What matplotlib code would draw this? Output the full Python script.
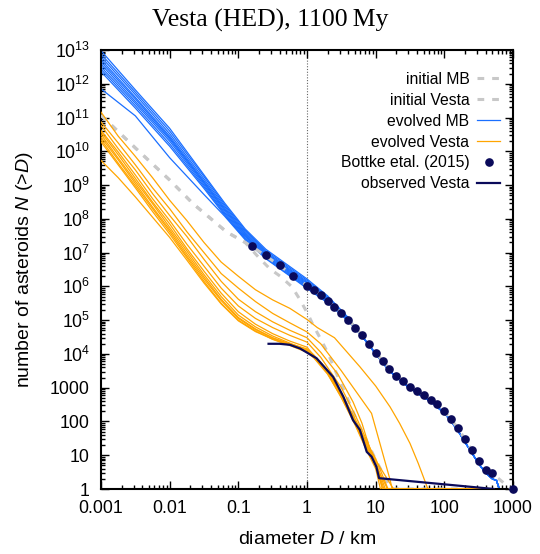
"""
Vesta (HED) family SFD at 1100 My: evolved vs initial vs observed
"""

import numpy as np
import matplotlib
matplotlib.use("Agg")
import matplotlib.pyplot as plt
from matplotlib.ticker import LogLocator, NullFormatter, FixedFormatter, FixedLocator

plt.rcParams['font.family'] = ['Liberation Sans', 'DejaVu Sans']
plt.rcParams['mathtext.fontset'] = 'custom'
plt.rcParams['mathtext.rm'] = 'Liberation Sans'
plt.rcParams['mathtext.it'] = 'Liberation Sans:italic'

# All values are log10(D / km) and log10(N(>D))

# initial MB / initial Vesta (common part at small D)
init_common_logD = [-3.0, -2.5, -2.0, -1.66, -1.17, -0.9]
init_common_logN = [11.07, 10.1, 9.15, 8.45, 7.61, 7.3]

init_mb_logD = [-0.8, -0.6, -0.4, -0.2, 0.0, 0.2, 0.4, 0.6, 0.8, 1.0, 1.2, 1.4, 1.6,
                1.8, 2.0, 2.2, 2.4, 2.6, 2.7, 2.97]
init_mb_logN = [7.18, 6.9, 6.62, 6.32, 6.02, 5.75, 5.4, 5.02, 4.56, 4.04, 3.56, 3.2,
                2.9, 2.64, 2.3, 1.8, 1.15, 0.56, 0.46, 0.0]

init_vesta_logD = [-0.7, -0.54, -0.39, -0.22, -0.1, 0.02, 0.09, 0.21, 0.31, 0.43, 0.58,
                   0.70, 0.84, 0.99, 1.13, 1.23, 2.72]
init_vesta_logN = [6.85, 6.52, 6.3, 5.99, 5.6, 5.15, 4.85, 4.4, 4.0, 3.42, 2.73,
                   2.14, 1.55, 0.91, 0.36, 0.0, 0.0]

# evolved MB (10 runs), small-D part on a common grid
evo_mb_logD = [-3.0, -2.5, -2.0, -1.5, -1.2, -0.9, -0.6, -0.3, 0.0, 0.3, 0.6]
evo_mb_logN = [
    [12.98, 11.82, 10.68, 9.30, 8.47, 7.70, 7.10, 6.66, 6.22, 5.72, 5.08],
    [12.88, 11.75, 10.60, 9.25, 8.42, 7.66, 7.06, 6.62, 6.18, 5.69, 5.06],
    [12.80, 11.68, 10.52, 9.18, 8.37, 7.62, 7.02, 6.58, 6.14, 5.66, 5.04],
    [12.72, 11.60, 10.45, 9.12, 8.32, 7.58, 6.99, 6.55, 6.11, 5.63, 5.03],
    [12.65, 11.55, 10.40, 9.08, 8.28, 7.55, 6.96, 6.52, 6.08, 5.61, 5.02],
    [12.58, 11.48, 10.36, 9.05, 8.24, 7.51, 6.93, 6.49, 6.05, 5.59, 5.01],
    [12.50, 11.42, 10.30, 9.00, 8.19, 7.48, 6.90, 6.46, 6.02, 5.57, 5.00],
    [12.43, 11.35, 10.22, 8.95, 8.15, 7.44, 6.87, 6.43, 5.99, 5.55, 4.99],
    [12.36, 11.28, 10.15, 8.90, 8.11, 7.41, 6.84, 6.40, 5.96, 5.53, 4.98],
    [11.85, 11.05, 9.81, 8.72, 8.08, 7.38, 6.82, 6.38, 5.94, 5.51, 4.97],
]
# shared large-D tail of the evolved MB
evo_mb_tail_logD = [0.8, 1.0, 1.2, 1.4, 1.6, 1.8, 2.0, 2.1, 2.2, 2.3, 2.4, 2.5, 2.6,
                    2.7, 2.76, 2.8, 3.0]
evo_mb_tail_logN = [4.53, 4.0, 3.5, 3.14, 2.85, 2.59, 2.25, 2.0, 1.72, 1.39, 1.07,
                    0.75, 0.48, 0.3, 0.25, 0.0, 0.0]

# evolved Vesta family (10 runs)
evo_ves_logD = [-3.0, -2.75, -2.5, -2.25, -2.0, -1.75, -1.5, -1.25, -1.0, -0.75, -0.5,
                -0.25, 0.0]
evo_ves_logN = [
    [11.16, 10.45, 9.85, 9.22, 8.55, 7.95, 7.30, 6.72, 6.30, 5.90, 5.60, 5.35, 5.02],
    [10.87, 10.25, 9.60, 8.92, 8.30, 7.62, 7.00, 6.38, 5.95, 5.55, 5.20, 4.92, 4.65],
    [10.77, 10.08, 9.45, 8.75, 8.10, 7.48, 6.80, 6.15, 5.62, 5.25, 4.95, 4.70, 4.48],
    [10.62, 9.98, 9.30, 8.60, 7.95, 7.25, 6.60, 5.95, 5.42, 5.05, 4.78, 4.55, 4.35],
    [10.57, 9.90, 9.20, 8.50, 7.85, 7.12, 6.45, 5.80, 5.25, 4.88, 4.60, 4.38, 4.20],
    [10.50, 9.80, 9.12, 8.45, 7.75, 7.05, 6.35, 5.70, 5.15, 4.80, 4.53, 4.32, 4.12],
    [10.42, 9.75, 9.05, 8.35, 7.68, 6.97, 6.28, 5.62, 5.08, 4.74, 4.48, 4.28, 4.08],
    [10.35, 9.65, 8.98, 8.30, 7.62, 6.90, 6.22, 5.58, 5.05, 4.72, 4.47, 4.30, 4.15],
    [10.28, 9.60, 8.92, 8.22, 7.55, 6.85, 6.15, 5.50, 5.00, 4.68, 4.43, 4.25, 4.05],
    [9.73, 9.22, 8.65, 8.05, 7.45, 6.78, 6.10, 5.48, 4.98, 4.66, 4.44, 4.27, 4.10],
]
evo_ves_tail_logD = [
    [0.15, 0.4, 0.77, 1.0, 1.21, 1.35, 1.5, 1.62, 1.72, 1.76, 2.72],
    [0.2, 0.5, 0.94, 1.21, 1.24, 2.72],
    [0.2, 0.45, 0.67, 0.8, 0.96, 1.16, 1.17, 2.72],
    [0.2, 0.5, 0.7, 0.9, 1.0, 1.1, 2.72],
    [0.1, 0.3, 0.5, 0.7, 0.85, 1.0, 1.14, 2.72],
    [0.1, 0.3, 0.5, 0.7, 0.85, 1.0, 1.10, 2.72],
    [0.1, 0.3, 0.5, 0.7, 0.85, 1.0, 1.07, 2.72],
    [0.1, 0.3, 0.5, 0.7, 0.85, 1.0, 1.18, 2.72],
    [0.1, 0.3, 0.5, 0.7, 0.85, 1.0, 1.12, 2.72],
    [0.1, 0.3, 0.5, 0.7, 0.85, 1.0, 1.26, 2.72],
]
evo_ves_tail_logN = [
    [4.78, 4.48, 3.62, 3.05, 2.43, 1.94, 1.35, 0.76, 0.22, 0.0, 0.0],
    [4.30, 3.50, 2.24, 0.27, 0.0, 0.0],
    [4.05, 3.40, 2.58, 1.95, 0.90, 0.05, 0.0, 0.0],
    [3.90, 3.00, 2.20, 1.30, 0.80, 0.0, 0.0],
    [3.95, 3.50, 2.80, 2.00, 1.35, 0.80, 0.0, 0.0],
    [3.92, 3.45, 2.75, 1.95, 1.30, 0.70, 0.0, 0.0],
    [3.90, 3.42, 2.70, 1.90, 1.22, 0.60, 0.0, 0.0],
    [3.97, 3.52, 2.85, 2.08, 1.45, 0.90, 0.0, 0.0],
    [3.88, 3.40, 2.72, 1.92, 1.28, 0.75, 0.0, 0.0],
    [3.94, 3.48, 2.78, 2.02, 1.38, 0.85, 0.0, 0.0],
]

# Bottke et al. (2015) main belt
bottke_logD = [-0.8, -0.6, -0.4, -0.2, 0.0, 0.1, 0.2, 0.3, 0.4, 0.5, 0.6, 0.7, 0.8, 0.9,
               1.0, 1.1, 1.2, 1.3, 1.4, 1.5, 1.6, 1.7, 1.8, 1.9, 2.0, 2.1, 2.2, 2.3,
               2.4, 2.5, 2.6, 2.7, 3.0]
bottke_logN = [7.2, 6.92, 6.63, 6.31, 6.0, 5.89, 5.74, 5.58, 5.39, 5.22, 5.0, 4.78,
               4.55, 4.28, 4.03, 3.79, 3.55, 3.34, 3.19, 3.02, 2.90, 2.78, 2.65, 2.51,
               2.31, 2.07, 1.80, 1.47, 1.15, 0.82, 0.56, 0.46, 0.0]

# observed Vesta family
obs_logD = [-0.56, -0.4, -0.25, -0.1, 0.14, 0.38, 0.53, 0.67, 0.77, 0.87, 0.94, 1.01,
            1.05, 2.72]
obs_logN = [4.30, 4.30, 4.27, 4.16, 3.87, 3.32, 2.73, 2.04, 1.75, 1.10, 0.96, 0.66,
            0.32, 0.0]

C_MB = '#1a6fff'
C_VES = '#ffa500'
C_GRAY = '#c8c8c8'
C_NAVY = '#0a0a5a'


def p(x):
    return np.power(10.0, np.asarray(x, dtype=float))


fig = plt.figure(figsize=(5.4, 5.54), dpi=100)
ax = fig.add_axes([101 / 540, 1 - 489 / 554, 412 / 540, 439 / 554])

handles = {}

# evolved MB
for i, run in enumerate(evo_mb_logN):
    ln, = ax.plot(p(evo_mb_logD + evo_mb_tail_logD), p(run + evo_mb_tail_logN),
                  color=C_MB, lw=0.9, zorder=2)
handles['evolved MB'] = ln

# initial SFDs (dashed gray)
dash = dict(color=C_GRAY, lw=2.2, dashes=(2.2, 2.6), zorder=3)
handles['initial MB'], = ax.plot(p(init_common_logD + init_mb_logD),
                                 p(init_common_logN + init_mb_logN), **dash)
handles['initial Vesta'], = ax.plot(p(init_common_logD + init_vesta_logD),
                                    p(init_common_logN + init_vesta_logN), **dash)

# evolved Vesta
for i, run in enumerate(evo_ves_logN):
    ln, = ax.plot(p(evo_ves_logD + evo_ves_tail_logD[i]), p(run + evo_ves_tail_logN[i]),
                  color=C_VES, lw=0.9, zorder=4)
handles['evolved Vesta'] = ln

handles['Bottke etal. (2015)'], = ax.plot(p(bottke_logD), p(bottke_logN), ls='none',
                                          marker='o', ms=5.2, color=C_NAVY, zorder=6,
                                          clip_on=False)
handles['observed Vesta'], = ax.plot(p(obs_logD), p(obs_logN), color=C_NAVY, lw=1.6,
                                     zorder=5)

ax.axvline(1.0, color='#666666', lw=0.8, ls=(0, (1, 1.5)), zorder=1)

ax.set_xscale('log')
ax.set_yscale('log')
ax.set_xlim(1e-3, 1e3)
ax.set_ylim(1, 1e13)

xt = [1e-3, 1e-2, 1e-1, 1, 10, 100, 1000]
ax.xaxis.set_major_locator(FixedLocator(xt))
ax.xaxis.set_major_formatter(FixedFormatter(['0.001', '0.01', '0.1', '1', '10', '100', '1000']))
ax.xaxis.set_minor_locator(LogLocator(base=10, subs=np.arange(2, 10), numticks=20))
ax.xaxis.set_minor_formatter(NullFormatter())

yt = [10.0 ** k for k in range(14)]
ylabels = ['1', '10', '100', '1000'] + [r'$\mathregular{10^{%d}}$' % k for k in range(4, 14)]
ax.yaxis.set_major_locator(FixedLocator(yt))
ax.yaxis.set_major_formatter(FixedFormatter(ylabels))
ax.yaxis.set_minor_locator(LogLocator(base=10, subs=np.arange(2, 10), numticks=30))
ax.yaxis.set_minor_formatter(NullFormatter())

ax.tick_params(which='both', direction='in', top=True, right=True, labelsize=12.8,
               width=1.0, color='black')
ax.tick_params(which='major', length=6)
ax.tick_params(axis='x', which='major', pad=8)
ax.tick_params(axis='y', which='major', pad=8)
ax.tick_params(which='minor', length=3)
for s in ax.spines.values():
    s.set_linewidth(1.5)

ax.set_xlabel(r'diameter $D$ / km', fontsize=14, labelpad=10)
ax.set_ylabel(r'number of asteroids $N$ (>$D$)', fontsize=14, labelpad=11)

fig.text(0.5, 1 - 20 / 554, 'Vesta (HED), 1100\u2009My', ha='center', va='center',
         fontsize=18.5, family='Liberation Serif')

order = ['initial MB', 'initial Vesta', 'evolved MB', 'evolved Vesta',
         'Bottke etal. (2015)', 'observed Vesta']
leg = ax.legend([handles[k] for k in order], order, loc='upper right',
                bbox_to_anchor=(0.9837, 0.965), borderaxespad=0, frameon=False,
                markerfirst=False, fontsize=11.3, handlelength=1.45,
                handletextpad=0.5, labelspacing=0.38, numpoints=1)

plt.savefig('out.png', dpi=100)
